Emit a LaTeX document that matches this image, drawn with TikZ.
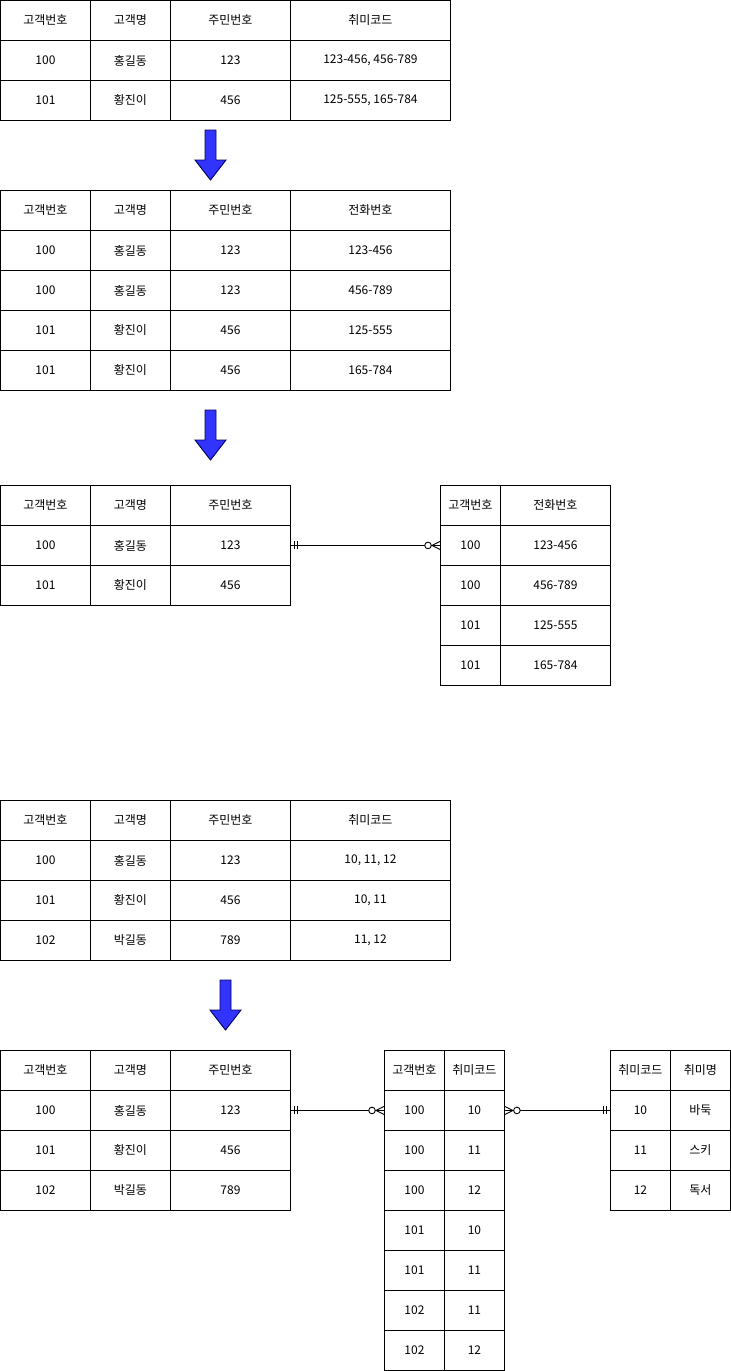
\documentclass[tikz,border=0pt]{standalone}
\usepackage{fontspec}
\setmainfont{Noto Sans CJK KR}
\usetikzlibrary{calc}

\definecolor{arrowfill}{RGB}{51,51,255}
\definecolor{arrowline}{RGB}{0,0,90}

\tikzset{
  cellbox/.style={draw=black, line width=0.9pt, anchor=north west, inner sep=0pt,
    minimum height=40pt, font=\fontsize{12}{14}\selectfont},
  erline/.style={draw=black, line width=0.9pt},
  downarrow/.style={fill=arrowfill, draw=arrowline, line width=0.9pt, line join=miter},
}

% one table row: #1 name prefix, #2 top y, #3 list of left-x/width/text
\newcommand\tablerow[3]{%
  \foreach \cx/\cw/\ct [count=\ci] in {#3} {%
    \node[cellbox, minimum width=\cw pt] (#1-\ci) at (\cx,#2) {\ct};
  }%
}

% block arrow pointing down: #1 left x of head, #2 top y
\newcommand\blockarrow[2]{%
  \draw[downarrow] (#1+10,#2) -- (#1+21,#2) -- (#1+21,#2+30) -- (#1+31,#2+30)
    -- (#1+15.5,#2+50) -- (#1,#2+30) -- (#1+10,#2+30) -- cycle;
}

\begin{document}
\begin{tikzpicture}[x=1pt,y=-1pt]
\useasboundingbox (0,0) rectangle (731,1371);

% ---- table with hobby codes (phone numbers) ----
\tablerow{a0}{0}{0/90/고객번호, 90/80/고객명, 170/120/주민번호, 290/160/취미코드}
\tablerow{a1}{40}{0/90/100, 90/80/홍길동, 170/120/123, 290/160/{123-456, 456-789}}
\tablerow{a2}{80}{0/90/101, 90/80/황진이, 170/120/456, 290/160/{125-555, 165-784}}

\blockarrow{195}{130}

% ---- first normal form ----
\tablerow{b0}{190}{0/90/고객번호, 90/80/고객명, 170/120/주민번호, 290/160/전화번호}
\tablerow{b1}{230}{0/90/100, 90/80/홍길동, 170/120/123, 290/160/123-456}
\tablerow{b2}{270}{0/90/100, 90/80/홍길동, 170/120/123, 290/160/456-789}
\tablerow{b3}{310}{0/90/101, 90/80/황진이, 170/120/456, 290/160/125-555}
\tablerow{b4}{350}{0/90/101, 90/80/황진이, 170/120/456, 290/160/165-784}

\blockarrow{195}{410}

% ---- customer / phone split ----
\tablerow{c0}{485}{0/90/고객번호, 90/80/고객명, 170/120/주민번호}
\tablerow{c1}{525}{0/90/100, 90/80/홍길동, 170/120/123}
\tablerow{c2}{565}{0/90/101, 90/80/황진이, 170/120/456}

\tablerow{d0}{485}{440/60/고객번호, 500/110/전화번호}
\tablerow{d1}{525}{440/60/100, 500/110/123-456}
\tablerow{d2}{565}{440/60/100, 500/110/456-789}
\tablerow{d3}{605}{440/60/101, 500/110/125-555}
\tablerow{d4}{645}{440/60/101, 500/110/165-784}

% one-and-only-one to zero-or-many
\draw[erline] (c1-3.east) -- (d1-1.west);
\draw[erline] ([xshift=4pt,yshift=-4pt]c1-3.east) -- ([xshift=4pt,yshift=4pt]c1-3.east);
\draw[erline] ([xshift=7pt,yshift=-4pt]c1-3.east) -- ([xshift=7pt,yshift=4pt]c1-3.east);
\draw[erline, fill=white] ([xshift=-12pt]d1-1.west) circle (3.3pt);
\draw[erline] ([yshift=4pt]d1-1.west) -- ([xshift=-8pt]d1-1.west) -- ([yshift=-4pt]d1-1.west);

% ---- table with hobby codes ----
\tablerow{e0}{800}{0/90/고객번호, 90/80/고객명, 170/120/주민번호, 290/160/취미코드}
\tablerow{e1}{840}{0/90/100, 90/80/홍길동, 170/120/123, 290/160/{10, 11, 12}}
\tablerow{e2}{880}{0/90/101, 90/80/황진이, 170/120/456, 290/160/{10, 11}}
\tablerow{e3}{920}{0/90/102, 90/80/박길동, 170/120/789, 290/160/{11, 12}}

\blockarrow{210}{980}

% ---- customer / customer-hobby / hobby ----
\tablerow{f0}{1050}{0/90/고객번호, 90/80/고객명, 170/120/주민번호}
\tablerow{f1}{1090}{0/90/100, 90/80/홍길동, 170/120/123}
\tablerow{f2}{1130}{0/90/101, 90/80/황진이, 170/120/456}
\tablerow{f3}{1170}{0/90/102, 90/80/박길동, 170/120/789}

\tablerow{g0}{1050}{384/60/고객번호, 444/60/취미코드}
\tablerow{g1}{1090}{384/60/100, 444/60/10}
\tablerow{g2}{1130}{384/60/100, 444/60/11}
\tablerow{g3}{1170}{384/60/100, 444/60/12}
\tablerow{g4}{1210}{384/60/101, 444/60/10}
\tablerow{g5}{1250}{384/60/101, 444/60/11}
\tablerow{g6}{1290}{384/60/102, 444/60/11}
\tablerow{g7}{1330}{384/60/102, 444/60/12}

\tablerow{h0}{1050}{610/60/취미코드, 670/60/취미명}
\tablerow{h1}{1090}{610/60/10, 670/60/바둑}
\tablerow{h2}{1130}{610/60/11, 670/60/스키}
\tablerow{h3}{1170}{610/60/12, 670/60/독서}

% customer to customer-hobby
\draw[erline] (f1-3.east) -- (g1-1.west);
\draw[erline] ([xshift=4pt,yshift=-4pt]f1-3.east) -- ([xshift=4pt,yshift=4pt]f1-3.east);
\draw[erline] ([xshift=7pt,yshift=-4pt]f1-3.east) -- ([xshift=7pt,yshift=4pt]f1-3.east);
\draw[erline, fill=white] ([xshift=-12pt]g1-1.west) circle (3.3pt);
\draw[erline] ([yshift=4pt]g1-1.west) -- ([xshift=-8pt]g1-1.west) -- ([yshift=-4pt]g1-1.west);

% customer-hobby to hobby
\draw[erline] (g1-2.east) -- (h1-1.west);
\draw[erline] ([yshift=4pt]g1-2.east) -- ([xshift=8pt]g1-2.east) -- ([yshift=-4pt]g1-2.east);
\draw[erline, fill=white] ([xshift=12pt]g1-2.east) circle (3.3pt);
\draw[erline] ([xshift=-4pt,yshift=-4pt]h1-1.west) -- ([xshift=-4pt,yshift=4pt]h1-1.west);
\draw[erline] ([xshift=-7pt,yshift=-4pt]h1-1.west) -- ([xshift=-7pt,yshift=4pt]h1-1.west);
\end{tikzpicture}
\end{document}
